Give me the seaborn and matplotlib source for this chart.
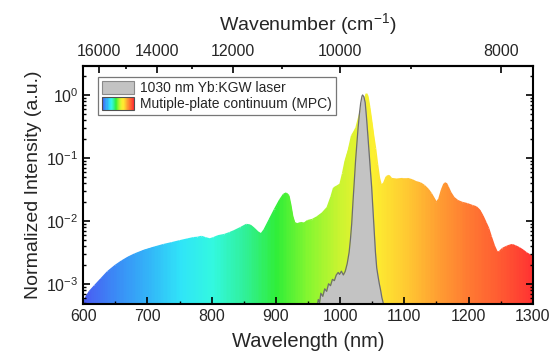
import numpy as np
import matplotlib
matplotlib.use("Agg")
import matplotlib.pyplot as plt
import seaborn as sns
from matplotlib.colors import LinearSegmentedColormap
from matplotlib.collections import LineCollection
from matplotlib.patches import Patch, Rectangle
from matplotlib.legend_handler import HandlerBase
from matplotlib.ticker import MultipleLocator, FixedLocator, NullFormatter, LogLocator

# multiple-plate continuum spectrum: wavelength (nm) and log10 of normalized intensity
mpc_wl = [600, 605, 610, 618, 628, 638, 650, 660, 670, 680, 695, 711, 725, 738, 750,
          763, 772, 778, 784, 790, 797, 803, 810, 820, 828, 835, 845, 854, 860, 866,
          872, 877, 882, 890, 898, 906, 912, 916, 920, 923, 926, 929, 933, 939, 944,
          949, 957, 964, 972, 980, 986, 990, 995, 1000, 1004, 1008, 1013, 1018, 1022,
          1025, 1028, 1032, 1036, 1039, 1041, 1043, 1046, 1049, 1052, 1055, 1058, 1061,
          1064, 1068, 1072, 1076, 1080, 1088, 1097, 1105, 1112, 1118, 1125, 1131, 1137,
          1142, 1147, 1150, 1154, 1158, 1162, 1165, 1168, 1172, 1177, 1183, 1190, 1198,
          1206, 1212, 1217, 1222, 1227, 1231, 1235, 1240, 1244, 1248, 1253, 1259, 1264,
          1268, 1273, 1279, 1285, 1290, 1295, 1300]
mpc_log = [-3.32, -3.2, -3.12, -3.03, -2.92, -2.81, -2.71, -2.64, -2.58, -2.53, -2.47,
           -2.42, -2.38, -2.35, -2.32, -2.29, -2.27, -2.265, -2.25, -2.27, -2.29, -2.27,
           -2.24, -2.22, -2.19, -2.16, -2.11, -2.06, -2.07, -2.12, -2.18, -2.21, -2.14,
           -1.98, -1.82, -1.67, -1.58, -1.56, -1.6, -1.75, -1.93, -2.03, -2.05, -2.03,
           -2.04, -2.0, -1.98, -1.94, -1.88, -1.79, -1.62, -1.48, -1.45, -1.42, -1.25,
           -1.05, -0.88, -0.65, -0.58, -0.52, -0.4, -0.25, -0.12, -0.04, 0.02, -0.02,
           -0.2, -0.42, -0.65, -0.85, -1.1, -1.32, -1.44, -1.40, -1.3, -1.28, -1.33,
           -1.34, -1.33, -1.33, -1.35, -1.38, -1.4, -1.44, -1.5, -1.57, -1.66, -1.71,
           -1.65, -1.51, -1.41, -1.40, -1.46, -1.55, -1.63, -1.68, -1.71, -1.73, -1.76,
           -1.78, -1.83, -1.92, -2.03, -2.12, -2.25, -2.40, -2.49, -2.49, -2.44, -2.41,
           -2.39, -2.38, -2.40, -2.43, -2.47, -2.51, -2.54, -2.57]

# 1030 nm Yb:KGW laser spectrum
laser_wl = [962, 966, 968, 970, 973, 976, 979, 982, 985, 988, 991, 994, 997, 999, 1002,
            1005, 1008, 1011, 1014, 1016, 1018, 1020, 1022, 1024, 1026, 1028, 1030, 1032,
            1034, 1035, 1037, 1039, 1041, 1043, 1045, 1047, 1049, 1051, 1053, 1055, 1057,
            1059, 1061, 1063, 1065, 1067, 1069]
laser_log = [-3.5, -3.25, -3.3, -3.15, -3.2, -3.08, -3.12, -3.0, -3.03, -2.93, -2.95,
             -2.86, -2.82, -2.85, -2.80, -2.86, -2.8, -2.68, -2.5, -2.3, -2.05, -1.7,
             -1.38, -1.05, -0.78, -0.52, -0.3, -0.13, -0.02, 0.0, -0.03, -0.12, -0.35,
             -0.62, -0.9, -1.18, -1.45, -1.8, -2.15, -2.5, -2.75, -2.88, -3.0, -3.1,
             -3.22, -3.3, -3.5]

wn_major = [16000, 14000, 12000, 10000, 8000]
wn_minor = [15000, 13000, 11000, 9000]

rainbow_colors = ["#4a5cf2", "#3a8cf6", "#33b4f8", "#30e4f8", "#33f8e0", "#30f09a",
                  "#30ee38", "#86f630", "#ccf430", "#fcf030", "#ffcc32", "#ffa032",
                  "#ff7a32", "#ff5a32", "#ff3232"]

labels = ["1030 nm Yb:KGW laser", "Mutiple-plate continuum (MPC)"]

sns.set_style("ticks")
plt.rcParams["font.family"] = ["Liberation Sans", "DejaVu Sans"]
plt.rcParams["mathtext.fontset"] = "custom"
plt.rcParams["mathtext.rm"] = "Liberation Sans"
plt.rcParams["mathtext.it"] = "Liberation Sans:italic"
plt.rcParams["axes.axisbelow"] = False

cmap = LinearSegmentedColormap.from_list("mpc", rainbow_colors)
ymin, ymax = 4.8e-4, 2.9

mpc_wl = np.array(mpc_wl, dtype=float)
mpc_int = 10 ** np.array(mpc_log)
laser_wl = np.array(laser_wl, dtype=float)
laser_int = 10 ** np.array(laser_log)

fig = plt.figure(figsize=(5.51, 3.6), dpi=100)
ax = fig.add_axes([0.151, 0.156, 0.816, 0.661])
ax.set_yscale("log")
ax.set_axisbelow(False)

# MPC: rainbow fill clipped to spectrum
poly = ax.fill_between(mpc_wl, mpc_int, ymin / 10, facecolor="none", edgecolor="none")
gx = np.linspace(600, 1300, 400)
mesh = ax.pcolormesh(gx, [ymin / 10, ymax * 10], gx[None, :-1], cmap=cmap,
                     vmin=600, vmax=1300, shading="flat", zorder=1, rasterized=True)
mesh.set_clip_path(poly.get_paths()[0], transform=ax.transData)
pts = np.column_stack([mpc_wl, mpc_int]).reshape(-1, 1, 2)
segs = np.concatenate([pts[:-1], pts[1:]], axis=1)
lc = LineCollection(segs, cmap=cmap, norm=plt.Normalize(600, 1300), lw=1.2, zorder=1.2)
lc.set_array((mpc_wl[:-1] + mpc_wl[1:]) / 2)
ax.add_collection(lc)

# laser
ax.fill_between(laser_wl, laser_int, ymin / 10, color="#c3c3c3", lw=0, zorder=1.5)
sns.lineplot(x=laser_wl, y=laser_int, color="#6e6e6e", lw=0.9, ax=ax, zorder=1.6)

ax.set_xlim(600, 1300)
ax.set_ylim(ymin, ymax)
ax.xaxis.set_major_locator(MultipleLocator(100))
ax.xaxis.set_minor_locator(MultipleLocator(50))
ax.yaxis.set_major_locator(LogLocator(base=10, numticks=10))
ax.yaxis.set_minor_locator(LogLocator(base=10, subs=np.arange(2, 10), numticks=50))
ax.yaxis.set_minor_formatter(NullFormatter())
ax.tick_params(which="both", direction="in", right=True, top=False, left=True,
               bottom=True, width=1.2, color="black")
ax.tick_params(which="major", length=5, labelsize=11.5)
ax.tick_params(which="minor", length=2.5, width=1.0)
for s in ax.spines.values():
    s.set_linewidth(1.5)
    s.set_color("black")
    s.set_zorder(3)

ax.set_xlabel("Wavelength (nm)", fontsize=14.5, labelpad=6)
ax.set_ylabel("Normalized Intensity (a.u.)", fontsize=14, labelpad=3)

# top axis in wavenumber
sec = ax.secondary_xaxis("top", functions=(lambda x: 1e7 / np.maximum(x, 1e-9),
                                           lambda x: 1e7 / np.maximum(x, 1e-9)))
sec.xaxis.set_major_locator(FixedLocator(wn_major))
sec.xaxis.set_minor_locator(FixedLocator(wn_minor))
sec.xaxis.set_minor_formatter(NullFormatter())
sec.tick_params(which="both", direction="in", width=1.2, color="black")
sec.tick_params(which="major", length=5, labelsize=11.5, pad=5)
sec.tick_params(which="minor", length=2.5)
sec.spines["top"].set_linewidth(1.5)
sec.set_xlabel("Wavenumber (cm$^{-1}$)", fontsize=14, labelpad=10)


class GradientHandler(HandlerBase):
    def create_artists(self, legend, orig_handle, xdescent, ydescent, width, height,
                       fontsize, trans):
        n = 30
        arts = []
        for i in range(n):
            arts.append(Rectangle((-xdescent + i * width / n, -ydescent), width / n, height,
                                  facecolor=cmap(i / (n - 1)), edgecolor="none",
                                  transform=trans))
        arts.append(Rectangle((-xdescent, -ydescent), width, height, fill=False,
                              edgecolor="#505050", lw=0.8, transform=trans))
        return arts


laser_patch = Patch(facecolor="#c3c3c3", edgecolor="#8a8a8a", lw=0.8)
mpc_patch = Patch(facecolor="none")
leg = ax.legend([laser_patch, mpc_patch], labels,
                handler_map={mpc_patch: GradientHandler()},
                loc="upper left", bbox_to_anchor=(0.033, 0.955), borderaxespad=0,
                fontsize=10, handlelength=2.3, handleheight=1.05, handletextpad=0.4,
                labelspacing=0.15, borderpad=0.3, fancybox=False, framealpha=1,
                edgecolor="#777777")
leg.get_frame().set_linewidth(0.9)
leg.set_zorder(5)

fig.savefig("out.png", dpi=100)
